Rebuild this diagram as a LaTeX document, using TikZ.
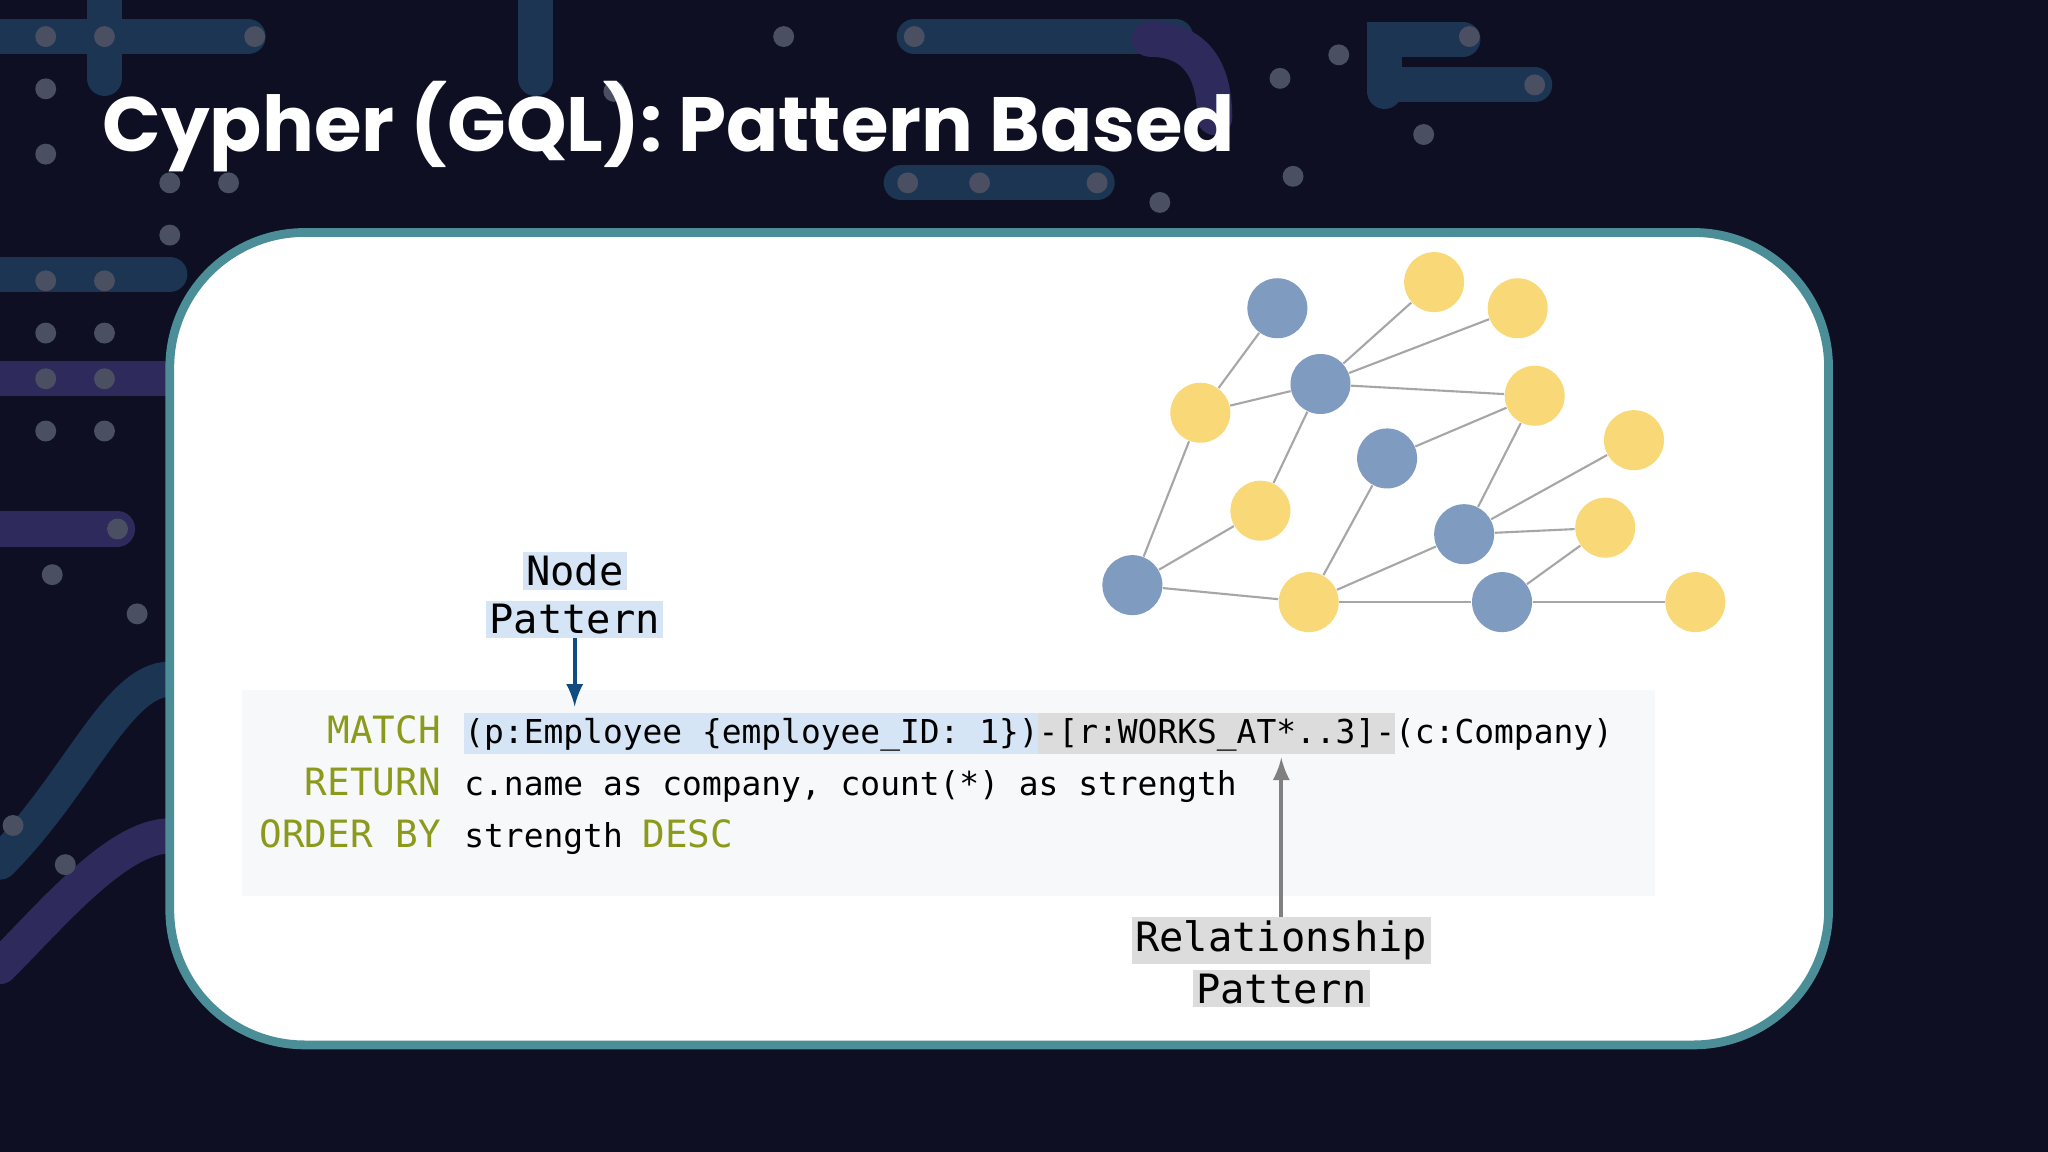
\documentclass[tikz,border=0pt]{standalone}
\usepackage{fontspec}
\setmainfont{Poppins}
\newfontfamily\codefont{DejaVu Sans Mono}
\usetikzlibrary{positioning}
\definecolor{bgnavy}{HTML}{0E0F22}
\definecolor{decoblue}{HTML}{1C3552}
\definecolor{decopurple}{HTML}{2E2A5C}
\definecolor{decodot}{HTML}{4A4F62}
\definecolor{frameteal}{HTML}{4B8E98}
\definecolor{codebg}{HTML}{F7F8FA}
\definecolor{keyolive}{HTML}{8C9A1C}
\definecolor{nodehl}{HTML}{D5E5F5}
\definecolor{relhl}{HTML}{DCDCDC}
\definecolor{gblue}{HTML}{7F9BC0}
\definecolor{gyellow}{HTML}{F9D878}
\definecolor{arrowblue}{HTML}{0F4C81}
\tikzset{
  deco/.style={line width=10pt,decoblue,line cap=round},
  decodots/.style={decodot},
  kw/.style={anchor=base east,inner sep=0pt,text=keyolive,font=\codefont\fontsize{10.7}{12}\selectfont},
  code/.style={anchor=base west,inner sep=0pt,font=\codefont\fontsize{9.36}{11}\selectfont},
  callout/.style={inner sep=1pt,font=\codefont\fontsize{11.5}{14}\selectfont},
  bnode/.style={circle,fill=gblue,minimum size=0.6cm,inner sep=0pt},
  ynode/.style={circle,fill=gyellow,minimum size=0.6cm,inner sep=0pt},
  link/.style={draw=gray!70,line width=0.6pt}
}
\begin{document}
\begin{tikzpicture}[x=0.01306cm,y=-0.01306cm]
  \fill[bgnavy] (0,0) rectangle (1568,882);
  \useasboundingbox (0,0) rectangle (1568,882);

  % background decoration
  \draw[deco] (0,28) -- (190,28);
  \draw[deco] (80,0) -- (80,60);
  \draw[deco] (410,0) -- (410,60);
  \draw[deco] (700,28) -- (900,28);
  \draw[deco] (1060,70) -- (1060,30) -- (1120,30);
  \draw[deco] (1060,65) -- (1175,65);
  \draw[deco] (0,210) -- (130,210);
  \draw[deco,decopurple] (0,290) -- (130,290);
  \draw[deco,decopurple] (0,405) -- (90,405);
  \draw[deco] (0,660) .. controls (60,600) and (90,520) .. (130,520);
  \draw[deco,decopurple] (0,740) .. controls (40,700) and (90,640) .. (130,640);
  \draw[deco] (690,140) -- (840,140);
  \draw[deco,decopurple] (880,30) .. controls (920,30) and (930,60) .. (930,90);
  \foreach \p in {(35,28),(80,28),(195,28),(35,68),(35,118),(130,140),(175,140),(130,180),(35,215),(80,215),(35,255),(80,255),(35,290),(80,290),(35,330),(80,330),(90,405),(40,440),(105,470),(10,632),(50,662),(600,28),(700,28),(840,140),(750,140),(695,140),(980,60),(1025,42),(1090,103),(990,135),(1125,28),(1175,65),(888,155),(470,70)}
    \fill[decodots] \p circle (8);

  % title
  \node[anchor=west,text=white,font=\bfseries\fontsize{21.9}{26}\selectfont,inner sep=0pt] (title) at (78,97) {Cypher (GQL): Pattern Based};

  % card
  \draw[fill=white,draw=frameteal,line width=2.5pt,rounded corners=1.35cm] (130,178) rectangle (1400,800);
  \fill[codebg] (185,528) rectangle (1267,686);

  % highlights
  \fill[nodehl] (355,546) rectangle (795,577);
  \fill[relhl] (795,546) rectangle (1068,577);

  % code
  \node[kw] (kmatch) at (338,569) {MATCH};
  \node[kw] (kreturn) at (338,609) {RETURN};
  \node[kw] (korder) at (338,649) {ORDER BY};
  \node[code] (lmatch) at (355,569) {(p:Employee {\string{}employee\_ID: 1{\string}})-[r:WORKS\_AT*..3]-(c:Company)};
  \node[code] (lreturn) at (355,609) {c.name as company, count(*) as strength};
  \node[code] (lorder) at (355,649) {strength \textcolor{keyolive}{\fontsize{10.7}{12}\selectfont DESC}};

  % callouts
  \node[callout,fill=nodehl] (nodetop) at (440,437) {Node};
  \node[callout,fill=nodehl] (nodebot) at (440,474) {Pattern};
  \node[callout,fill=relhl] (reltop) at (981,720) {Relationship};
  \node[callout,fill=relhl] (relbot) at (981,757) {Pattern};
  \coordinate (nodetip) at (440,541);
  \coordinate (reltip) at (981,580);
  \draw[arrowblue,line width=1.2pt,-latex] (nodebot) -- (nodetip);
  \draw[gray,line width=1.2pt,-latex] (reltop) -- (reltip);

  % graph
  \node[bnode] (b1) at (978,236) {};
  \node[bnode] (b2) at (1011,294) {};
  \node[bnode] (b3) at (1062,351) {};
  \node[bnode] (b4) at (867,448) {};
  \node[bnode] (b5) at (1121,409) {};
  \node[bnode] (b6) at (1150,461) {};
  \node[ynode] (y1) at (1098,216) {};
  \node[ynode] (y2) at (1162,236) {};
  \node[ynode] (y3) at (919,316) {};
  \node[ynode] (y4) at (1175,303) {};
  \node[ynode] (y5) at (965,391) {};
  \node[ynode] (y6) at (1251,337) {};
  \node[ynode] (y7) at (1229,404) {};
  \node[ynode] (y8) at (1002,461) {};
  \node[ynode] (y9) at (1298,461) {};
  \foreach \a/\b in {b1/y3,y3/b2,b2/y1,b2/y2,b2/y4,b2/y5,y3/b4,y5/b4,b4/y8,b3/y4,b3/y8,y4/b5,b5/y6,b5/y7,b5/y8,b6/y7,y8/b6,b6/y9}
    \draw[link] (\a) -- (\b);
\end{tikzpicture}
\end{document}
